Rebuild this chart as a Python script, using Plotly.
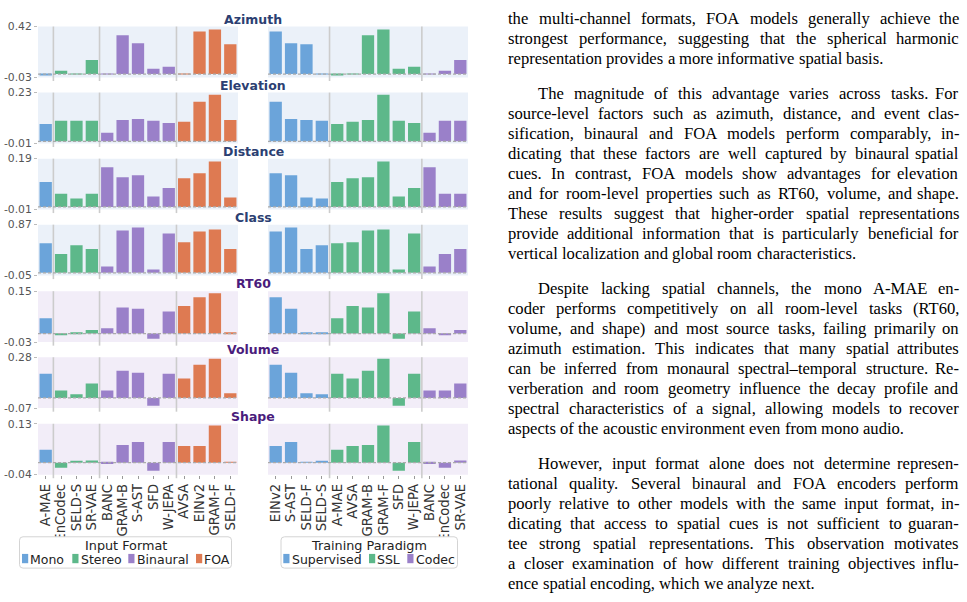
import plotly.graph_objects as go

W, H = 967, 602

# ---------------- data ----------------
TASKS = ["Azimuth", "Elevation", "Distance", "Class", "RT60", "Volume", "Shape"]
TASK_LEVEL = ["source", "source", "source", "source", "room", "room", "room"]
Y_LOW = [-0.03, -0.01, -0.01, -0.05, -0.03, -0.07, -0.04]
Y_HIGH = [0.42, 0.23, 0.19, 0.87, 0.15, 0.28, 0.13]

# models ordered by input format (left column)
MODELS = ["A-MAE", "EnCodec", "SELD-S", "SR-VAE", "BANC", "GRAM-B", "S-AST",
          "SFD", "W-JEPA", "AVSA", "EINv2", "GRAM-F", "SELD-F"]
INPUT_FORMAT = ["Mono", "Stereo", "Stereo", "Stereo", "Binaural", "Binaural",
                "Binaural", "Binaural", "Binaural", "FOA", "FOA", "FOA", "FOA"]
FORMAT_GROUPS = ["Mono", "Stereo", "Binaural", "FOA"]

# models ordered by training paradigm (right column)
PARADIGM_MODELS = ["EINv2", "S-AST", "SELD-F", "SELD-S", "A-MAE", "AVSA",
                   "GRAM-B", "GRAM-F", "SFD", "W-JEPA", "BANC", "EnCodec", "SR-VAE"]
PARADIGM = ["Supervised", "Supervised", "Supervised", "Supervised", "SSL", "SSL",
            "SSL", "SSL", "SSL", "SSL", "Codec", "Codec", "Codec"]
PARADIGM_GROUPS = ["Supervised", "SSL", "Codec"]

# scores, aligned with MODELS
AZIMUTH = [-0.009, 0.030, 0.003, 0.125, 0.003, 0.342, 0.272, 0.046, 0.064, 0.003, 0.377, 0.394, 0.264]
ELEVATION = [0.082, 0.097, 0.097, 0.097, 0.040, 0.101, 0.106, 0.097, 0.087, 0.092, 0.187, 0.220, 0.101]
DISTANCE = [0.098, 0.052, 0.033, 0.052, 0.156, 0.117, 0.125, 0.041, 0.075, 0.113, 0.133, 0.179, 0.037]
CLASS = [0.535, 0.341, 0.500, 0.429, 0.112, 0.764, 0.817, 0.059, 0.711, 0.553, 0.747, 0.782, 0.429]
RT60 = [0.054, -0.003, 0.002, 0.013, 0.019, 0.092, 0.088, -0.018, 0.078, 0.098, 0.129, 0.143, 0.002]
VOLUME = [0.167, 0.052, 0.025, 0.099, 0.052, 0.187, 0.174, -0.054, 0.167, 0.133, 0.228, 0.269, 0.032]
SHAPE = [0.043, -0.017, 0.004, 0.007, -0.004, 0.059, 0.069, -0.027, 0.069, 0.056, 0.056, 0.124, 0.001]
SCORES = [AZIMUTH, ELEVATION, DISTANCE, CLASS, RT60, VOLUME, SHAPE]

BODY_TEXT = [
    ["the multi-channel formats, FOA models generally achieve the",
     "strongest performance, suggesting that the spherical harmonic",
     "representation provides a more informative spatial basis."],
    ["The magnitude of this advantage varies across tasks. For",
     "source-level factors such as azimuth, distance, and event clas-",
     "sification, binaural and FOA models perform comparably, in-",
     "dicating that these factors are well captured by binaural spatial",
     "cues. In contrast, FOA models show advantages for elevation",
     "and for room-level properties such as RT60, volume, and shape.",
     "These results suggest that higher-order spatial representations",
     "provide additional information that is particularly beneficial for",
     "vertical localization and global room characteristics."],
    ["Despite lacking spatial channels, the mono A-MAE en-",
     "coder performs competitively on all room-level tasks (RT60,",
     "volume, and shape) and most source tasks, failing primarily on",
     "azimuth estimation. This indicates that many spatial attributes",
     "can be inferred from monaural spectral\u2013temporal structure. Re-",
     "verberation and room geometry influence the decay profile and",
     "spectral characteristics of a signal, allowing models to recover",
     "aspects of the acoustic environment even from mono audio."],
    ["However, input format alone does not determine represen-",
     "tational quality. Several binaural and FOA encoders perform",
     "poorly relative to other models with the same input format, in-",
     "dicating that access to spatial cues is not sufficient to guaran-",
     "tee strong spatial representations. This observation motivates",
     "a closer examination of how different training objectives influ-",
     "ence spatial encoding, which we analyze next."],
]

# ---------------- style ----------------
GROUP_COLOR = {"Mono": "#6BA4DA", "Stereo": "#5DB88A", "Binaural": "#9A80C9", "FOA": "#DE7A52",
               "Supervised": "#6BA4DA", "SSL": "#5DB88A", "Codec": "#9A80C9"}
BG = {"source": "#EBF1F9", "room": "#F2EDF8"}
TITLE_COLOR = {"source": "#2C3F72", "room": "#4A1C7C"}
SANS = "DejaVu Sans"
SERIF = "Liberation Serif"

COL_X = [(38, 238), (268, 468)]
ROW_TOP = [21, 88.5, 156, 223.5, 291.5, 359, 427]
PANEL_H = 52


def ax_name(kind, k):
    return kind if k == 1 else f"{kind}{k}"


def rounded_box(x0, x1, y0, y1, rad=3.5):
    """Rounded rectangle path in paper coordinates from pixel bounds."""
    X = lambda v: v / W
    Y = lambda v: 1 - v / H
    return (f"M {X(x0 + rad)},{Y(y0)} L {X(x1 - rad)},{Y(y0)} Q {X(x1)},{Y(y0)} {X(x1)},{Y(y0 + rad)} "
            f"L {X(x1)},{Y(y1 - rad)} Q {X(x1)},{Y(y1)} {X(x1 - rad)},{Y(y1)} "
            f"L {X(x0 + rad)},{Y(y1)} Q {X(x0)},{Y(y1)} {X(x0)},{Y(y1 - rad)} "
            f"L {X(x0)},{Y(y0 + rad)} Q {X(x0)},{Y(y0)} {X(x0 + rad)},{Y(y0)} Z")


fig = go.Figure()
layout = {}
shapes = []
annotations = []
last_row = len(TASKS) - 1

for r, task in enumerate(TASKS):
    vals = dict(zip(MODELS, SCORES[r]))
    level = TASK_LEVEL[r]
    top = ROW_TOP[r]
    bot = top + PANEL_H
    for c in range(2):
        k = r * 2 + c + 1
        xa, ya = ax_name("x", k), ax_name("y", k)
        order = MODELS if c == 0 else PARADIGM_MODELS
        labels = INPUT_FORMAT if c == 0 else PARADIGM
        groups = FORMAT_GROUPS if c == 0 else PARADIGM_GROUPS
        for g in groups:
            xs = [m for m, l in zip(order, labels) if l == g]
            fig.add_trace(go.Bar(
                x=xs, y=[vals[m] for m in xs], name=g, width=0.8,
                marker=dict(color=GROUP_COLOR[g], line=dict(width=0)),
                xaxis=xa, yaxis=ya, showlegend=False))
        x0, x1 = COL_X[c]
        layout[ax_name("xaxis", k)] = dict(
            domain=[x0 / W, x1 / W], anchor=ya, type="category",
            categoryorder="array", categoryarray=order,
            tickmode="array", tickvals=order, ticktext=order,
            range=[-0.5, len(order) - 0.5], showgrid=False, zeroline=False,
            showline=False, showticklabels=(r == last_row), tickangle=-90,
            ticks="outside" if r == last_row else "", ticklen=3,
            tickcolor="#999999", tickfont=dict(family=SANS, size=13.2, color="#333333"))
        layout[ax_name("yaxis", k)] = dict(
            domain=[1 - bot / H, 1 - top / H], anchor=xa,
            range=[Y_LOW[r], Y_HIGH[r]], tickvals=[Y_LOW[r], Y_HIGH[r]],
            ticktext=[f"{Y_LOW[r]:.2f}", f"{Y_HIGH[r]:.2f}"],
            showticklabels=(c == 0), ticks="outside" if c == 0 else "",
            ticklen=3, tickcolor="#bbbbbb",
            tickfont=dict(family=SANS, size=10.8, color="#555555"),
            showgrid=False, zeroline=False, showline=False)
        # panel background
        shapes.append(dict(type="rect", xref=f"{xa} domain", yref=f"{ya} domain",
                           x0=0, x1=1, y0=0, y1=1, fillcolor=BG[level],
                           line=dict(width=0), layer="below"))
        # group separators
        for i in range(len(labels) - 1):
            if labels[i] != labels[i + 1]:
                shapes.append(dict(type="line", xref=xa, yref=f"{ya} domain",
                                   x0=i + 0.5, x1=i + 0.5, y0=-0.07, y1=1,
                                   line=dict(color="#cccccc", width=1.6), layer="above"))
        # zero line
        shapes.append(dict(type="line", xref=f"{xa} domain", yref=ya,
                           x0=0, x1=1, y0=0, y1=0,
                           line=dict(color="#aaaaaa", width=1.2, dash="3px,2px"),
                           layer="above"))
    annotations.append(dict(
        text=f"<b>{task}</b>", x=253 / W, y=1 - (top - 7.5) / H, xref="paper", yref="paper",
        xanchor="center", yanchor="middle", showarrow=False,
        font=dict(family=SANS, size=12.5, color=TITLE_COLOR[level])))

# ---------------- manual legends ----------------
LEGENDS = [
    dict(title="Input Format", box=(19.5, 231.5), title_x=125.5, groups=FORMAT_GROUPS,
         swatch_x=[22, 72.3, 128.3, 196]),
    dict(title="Training Paradigm", box=(281, 457.5), title_x=369, groups=PARADIGM_GROUPS,
         swatch_x=[283.3, 369, 407.3]),
]
for lg in LEGENDS:
    bx0, bx1 = lg["box"]
    shapes.append(dict(type="path", xref="paper", yref="paper",
                       path=rounded_box(bx0, bx1, 542.5, 574.5),
                       fillcolor="white", line=dict(color="#d4d4d4", width=1)))
    annotations.append(dict(text=lg["title"], x=lg["title_x"] / W, y=1 - 551.3 / H,
                            xref="paper", yref="paper", xanchor="center", yanchor="middle",
                            showarrow=False, borderpad=0,
                            font=dict(family=SANS, size=12.8, color="#222222")))
    for g, sx in zip(lg["groups"], lg["swatch_x"]):
        shapes.append(dict(type="rect", xref="paper", yref="paper",
                           x0=sx / W, x1=(sx + 6.2) / W, y0=1 - 569.5 / H, y1=1 - 560 / H,
                           fillcolor=GROUP_COLOR[g], line=dict(width=0)))
        annotations.append(dict(text=g, x=(sx + 7.2) / W, y=1 - 565.5 / H,
                                xref="paper", yref="paper", xanchor="left", yanchor="middle",
                                showarrow=False, borderpad=0,
                                font=dict(family=SANS, size=12.5, color="#222222")))

# ---------------- body text (justified, word by word) ----------------
TIMES_W = {}
for chars, w in [(" ,.", 250), ("ijlt:;/", 278), ("fr-()I'", 333), ("sJ", 389),
                 ("acez?", 444), ("bdghknopquvxy0123456789\u2013", 500), ("FPS", 556),
                 ("ELTZ", 611), ("BCR", 667), ("wADGHKNOQUVXY", 722), ("m&", 778),
                 ("M", 889), ("W", 944)]:
    for ch in chars:
        TIMES_W[ch] = w

FS = 16.6
TXT_LEFT, TXT_INDENT, TXT_RIGHT = 507, 537, 960
Y0, PITCH, PGAP = 12.5, 20.45, 15.3


def word_w(s):
    return sum(TIMES_W.get(ch, 500) for ch in s) / 1000 * FS


idx = 0
for p, para in enumerate(BODY_TEXT):
    for li, line in enumerate(para):
        y = Y0 + idx * PITCH + p * PGAP
        left = TXT_INDENT if (li == 0 and p > 0) else TXT_LEFT
        words = line.split()
        widths = [word_w(w) for w in words]
        last = li == len(para) - 1
        if last or len(words) < 2:
            gap = word_w(" ")
        else:
            gap = (TXT_RIGHT - left - sum(widths)) / (len(words) - 1)
        x = left
        for wi, (wd, ww) in enumerate(zip(words, widths)):
            right_end = (not last) and wi == len(words) - 1
            annotations.append(dict(text=wd, x=(TXT_RIGHT if right_end else x) / W, y=1 - y / H,
                                    xref="paper", yref="paper",
                                    xanchor="right" if right_end else "left", yanchor="middle",
                                    showarrow=False, borderpad=0,
                                    font=dict(family=SERIF, size=FS, color="#000000")))
            x += ww + gap
        idx += 1

fig.update_layout(
    width=W, height=H, margin=dict(l=0, r=0, t=0, b=0),
    paper_bgcolor="white", plot_bgcolor="rgba(0,0,0,0)",
    barmode="overlay", bargap=0.2, showlegend=False,
    font=dict(family=SANS, color="#333333"),
    shapes=shapes, annotations=annotations, **layout)

fig.write_html("out.html")
